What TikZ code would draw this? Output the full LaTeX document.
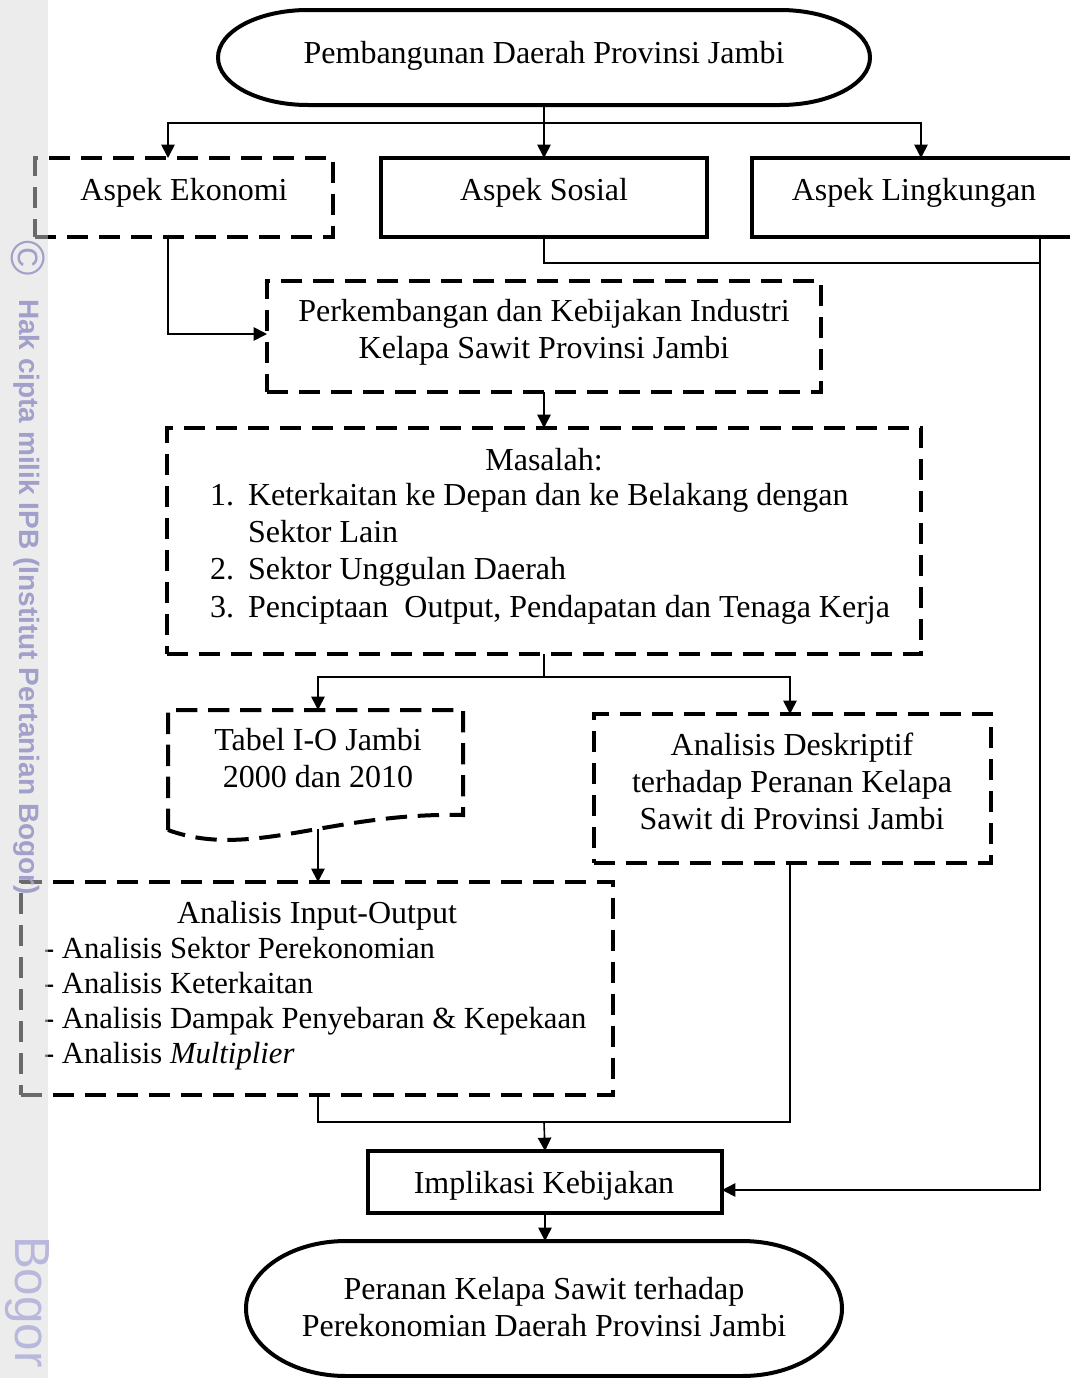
\documentclass[tikz,border=0pt]{standalone}
\usepackage{fontspec}
\setmainfont{Liberation Serif}
\newfontfamily\wmfont{Liberation Sans}
\usetikzlibrary{arrows.meta,fit,calc}
\definecolor{stripgray}{RGB}{236,236,236}
\definecolor{wmtext}{RGB}{160,160,202}
\definecolor{wmlight}{RGB}{184,184,220}
\begin{document}
\begin{tikzpicture}[x=0.75pt,y=-0.75pt,
  every node/.style={inner sep=0pt,outer sep=0pt},
  txt/.style={font=\fontsize{24}{28}\selectfont, anchor=base},
  txtl/.style={txt, anchor=base west},
  txts/.style={font=\fontsize{23}{27}\selectfont, anchor=base west},
  solidbox/.style={draw, line width=3pt},
  dashbox/.style={draw, line width=3pt, dash pattern=on 16pt off 8pt},
  conn/.style={line width=1.2pt},
  arr/.style={conn, -{Triangle[length=10pt,width=10pt]}},
  wm/.style={text=wmtext, rotate=-90, font=\wmfont\bfseries\fontsize{21}{24}\selectfont},
]
\useasboundingbox (0,0) rectangle (1070,1378);
\clip (0,0) rectangle (1070,1378);
\fill[stripgray] (0,0) rectangle (48,1378);

% ---------- top terminator ----------
\node[fit={(218,10) (870,105)}] (top) {};
\draw[line width=3pt] ($(top.north west)+(90,0)$) -- ($(top.north east)+(-90,0)$)
  arc[start angle=90,end angle=-90,x radius=67.5pt,y radius=35.625pt]
  -- ($(top.south west)+(90,0)$)
  arc[start angle=270,end angle=90,x radius=67.5pt,y radius=35.625pt] -- cycle;
\node[txt] (topt) at (544,63) {Pembangunan Daerah Provinsi Jambi};

% ---------- aspects ----------
\node[fit={(35,158) (333,237)}, dashbox] (eko) {};
\node[txt] (ekot) at (184,200) {Aspek Ekonomi};
\node[fit={(381,158) (707,237)}, solidbox] (sos) {};
\node[txt] (sost) at (544,200) {Aspek Sosial};
\node[fit={(752,158) (1078,237)}, solidbox] (ling) {};
\node[txt] (lingt) at (914,200) {Aspek Lingkungan};

% ---------- perkembangan ----------
\node[fit={(267,281) (821,392)}, dashbox] (perk) {};
\node[txt] (perk1) at (544,321) {Perkembangan dan Kebijakan Industri};
\node[txt] (perk2) at (544,358) {Kelapa Sawit Provinsi Jambi};

% ---------- masalah ----------
\node[fit={(167,428) (921,654)}, dashbox] (mas) {};
\node[txt] (mast) at (544,470) {Masalah:};
\node[txtl] (n1) at (210,505) {1.};
\node[txtl] (m1) at (248,505) {Keterkaitan ke Depan dan ke Belakang dengan};
\node[txtl] (m1b) at (248,542) {Sektor Lain};
\node[txtl] (n2) at (210,579) {2.};
\node[txtl] (m2) at (248,579) {Sektor Unggulan Daerah};
\node[txtl] (n3) at (210,617) {3.};
\node[txtl] (m3) at (248,617) {Penciptaan\ \ Output, Pendapatan dan Tenaga Kerja};

% ---------- tabel I-O (document shape) ----------
\node[fit={(168,710) (463,830)}] (tab) {};
\draw[line width=3pt, dash pattern=on 16pt off 8pt]
  (168,830) -- (168,710) -- (463,710) -- (463,815)
  .. controls (330,812) and (250,860) .. (168,830);
\node[txt] (tab1) at (318,750) {Tabel I-O Jambi};
\node[txt] (tab2) at (318,787) {2000 dan 2010};
\coordinate (tabOut) at (318,829);

% ---------- analisis deskriptif ----------
\node[fit={(594,714) (991,863)}, dashbox] (desk) {};
\node[txt] (desk1) at (792,755) {Analisis Deskriptif};
\node[txt] (desk2) at (792,792) {terhadap Peranan Kelapa};
\node[txt] (desk3) at (792,829) {Sawit di Provinsi Jambi};

% ---------- analisis input-output ----------
\node[fit={(21,882) (613,1095)}, dashbox] (io) {};
\node[txt] (iot) at (317,923) {Analisis Input-Output};
\node[txts] (io1) at (44,958) {- Analisis Sektor Perekonomian};
\node[txts] (io2) at (44,993) {- Analisis Keterkaitan};
\node[txts] (io3) at (44,1028) {- Analisis Dampak Penyebaran \& Kepekaan};
\node[txts] (io4) at (44,1063) {- Analisis \textit{Multiplier}};

% ---------- implikasi ----------
\node[fit={(368,1151) (722,1213)}, solidbox] (impl) {};
\node[txt] (implt) at (544,1193) {Implikasi Kebijakan};

% ---------- bottom terminator ----------
\node[fit={(246,1241) (842,1376)}] (bot) {};
\draw[line width=3pt] ($(bot.north west)+(100,0)$) -- ($(bot.north east)+(-100,0)$)
  arc[start angle=90,end angle=-90,x radius=75pt,y radius=50.625pt]
  -- ($(bot.south west)+(100,0)$)
  arc[start angle=270,end angle=90,x radius=75pt,y radius=50.625pt] -- cycle;
\node[txt] (bot1) at (544,1299) {Peranan Kelapa Sawit terhadap};
\node[txt] (bot2) at (544,1336) {Perekonomian Daerah Provinsi Jambi};

% ---------- connectors ----------
\coordinate (j1) at (544,123);
\coordinate (ekoTop) at (168,158);
\coordinate (lingTop) at (921,158);
\coordinate (ekoBot) at (168,237);
\coordinate (perkIn) at (267,334);
\coordinate (sosJ) at (1040,263);
\coordinate (lingBot) at (1040,237);
\coordinate (implIn) at (722,1190);
\coordinate (j2) at (544,677);
\coordinate (tabIn) at (318,710);
\coordinate (deskIn) at (790,714);
\coordinate (ioOut) at (318,1095);
\coordinate (j3) at (544,1122);
\coordinate (deskOut) at (790,863);

\draw[arr] (top.south) -- (sos.north);
\draw[arr] (j1) -| (ekoTop);
\draw[arr] (j1) -| (lingTop);
\draw[arr] (ekoBot) |- (perkIn);
\draw[conn] (sos.south) |- (sosJ);
\draw[arr] (lingBot) |- (implIn);
\draw[arr] (perk.south) -- (perk.south |- mas.north);
\draw[conn] (j2 |- mas.south) -- (j2);
\draw[arr] (j2) -| (tabIn);
\draw[arr] (j2) -| (deskIn);
\draw[arr] (tabOut) -- (tabOut |- io.north);
\draw[conn] (ioOut) |- (j3) -| (deskOut);
\draw[arr] (j3) -- (impl.north);
\draw[arr] (impl.south) -- (impl.south |- bot.north);

% ---------- watermark strip ----------
\fill[stripgray, opacity=0.45] (0,0) rectangle (48,1378);
\node[text=wmtext, rotate=-90, font=\wmfont\fontsize{36}{40}\selectfont] (wmc) at (28,258) {©};
\node[wm, anchor=center] (wmt) at (27,597) {Hak cipta milik IPB (Institut Pertanian Bogor)};
\node[text=wmlight, rotate=-90, anchor=west, font=\wmfont\fontsize{37}{42}\selectfont] (wmb) at (27,1236) {Bogor};
\end{tikzpicture}
\end{document}
